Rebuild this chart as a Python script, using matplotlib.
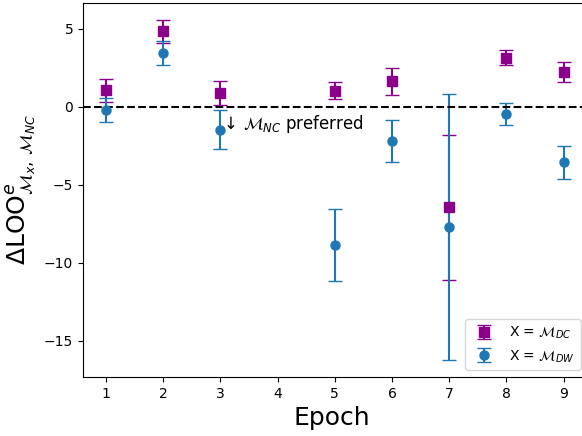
import matplotlib
matplotlib.use('Agg')
import matplotlib.pyplot as plt
import numpy as np

# Delta LOO per epoch for the two model comparisons (epoch 4 missing)
epochs = [1, 2, 3, 5, 6, 7, 8, 9]
dc_vals = [1.05, 4.85, 0.88, 1.04, 1.65, -6.45, 3.15, 2.24]
dc_errs = [0.75, 0.74, 0.76, 0.53, 0.86, 4.65, 0.48, 0.66]
dw_vals = [-0.22, 3.45, -1.48, -8.88, -2.2, -7.72, -0.45, -3.55]
dw_errs = [0.76, 0.78, 1.25, 2.3, 1.36, 8.52, 0.7, 1.06]

fig = plt.figure(figsize=(5.82, 4.36), dpi=100)
ax = fig.add_axes([0.1426, 0.1353, 0.88, 0.8585])

ax.errorbar(epochs, dc_vals, yerr=dc_errs, fmt='s', color='darkmagenta',
            capsize=5, elinewidth=1.5, markersize=6.5,
            label=r'X = $\mathcal{M}_{DC}$')
ax.errorbar(epochs, dw_vals, yerr=dw_errs, fmt='o', color='#1f77b4',
            capsize=5, elinewidth=1.5, markersize=6.5,
            label=r'X = $\mathcal{M}_{DW}$')
ax.axhline(0, color='k', linestyle='--', linewidth=1.5)
ax.text(3.0, -1.1, r'$\downarrow\,\mathcal{M}_{NC}$ preferred',
        fontsize=12, va='center', ha='left')

ax.set_xlim(0.6, 9.55)
ax.set_xticks(range(1, 10))
ax.set_xlabel('Epoch', fontsize=18)
ax.xaxis.label.set_x(0.485)
ax.set_ylabel(r'$\Delta \mathrm{LOO}^{e}_{\mathcal{M}_x,\,\mathcal{M}_{NC}}$',
              fontsize=18)
ax.legend(loc='lower right', bbox_to_anchor=(0.985, 0.0), fontsize=10)

plt.savefig('out.png', dpi=100)
